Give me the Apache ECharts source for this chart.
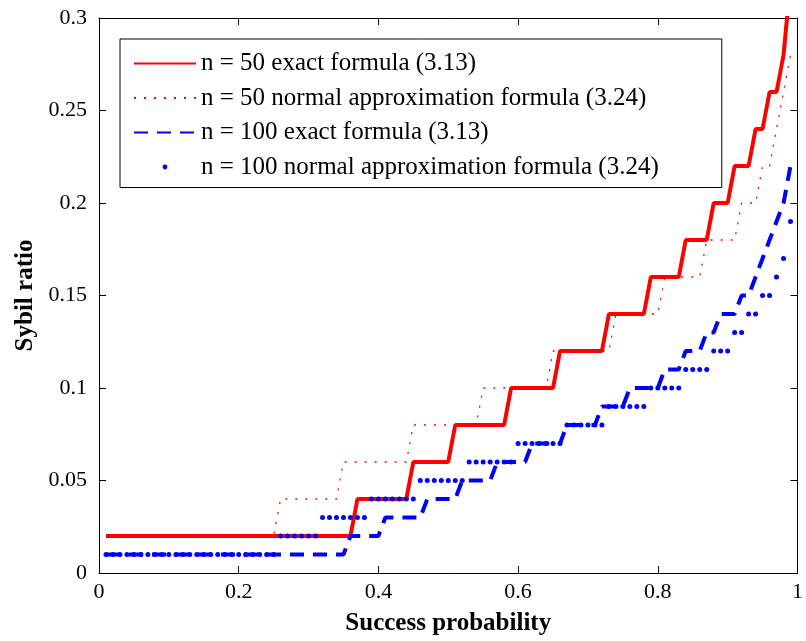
<!DOCTYPE html>
<html><head><meta charset="utf-8">
<script src="https://cdn.jsdelivr.net/npm/echarts@6/dist/echarts.min.js"></script>
<style>html,body{margin:0;padding:0;background:#fff}#c{width:806px;height:641px}</style>
</head><body><div id="c"></div>
<script>
// success probability samples
const probabilities = [
0.01,0.02,0.03,0.04,0.05,0.06,0.07,0.08,0.09,0.10,
0.11,0.12,0.13,0.14,0.15,0.16,0.17,0.18,0.19,0.20,
0.21,0.22,0.23,0.24,0.25,0.26,0.27,0.28,0.29,0.30,
0.31,0.32,0.33,0.34,0.35,0.36,0.37,0.38,0.39,0.40,
0.41,0.42,0.43,0.44,0.45,0.46,0.47,0.48,0.49,0.50,
0.51,0.52,0.53,0.54,0.55,0.56,0.57,0.58,0.59,0.60,
0.61,0.62,0.63,0.64,0.65,0.66,0.67,0.68,0.69,0.70,
0.71,0.72,0.73,0.74,0.75,0.76,0.77,0.78,0.79,0.80,
0.81,0.82,0.83,0.84,0.85,0.86,0.87,0.88,0.89,0.90,
0.91,0.92,0.93,0.94,0.95,0.96,0.97,0.98,0.99];

// n = 50 exact formula (3.13)
const n50Exact = [
0.02,0.02,0.02,0.02,0.02,0.02,0.02,0.02,0.02,0.02,
0.02,0.02,0.02,0.02,0.02,0.02,0.02,0.02,0.02,0.02,
0.02,0.02,0.02,0.02,0.02,0.02,0.02,0.02,0.02,0.02,
0.02,0.02,0.02,0.02,0.02,0.02,0.04,0.04,0.04,0.04,
0.04,0.04,0.04,0.04,0.06,0.06,0.06,0.06,0.06,0.06,
0.08,0.08,0.08,0.08,0.08,0.08,0.08,0.08,0.10,0.10,
0.10,0.10,0.10,0.10,0.10,0.12,0.12,0.12,0.12,0.12,
0.12,0.12,0.14,0.14,0.14,0.14,0.14,0.14,0.16,0.16,
0.16,0.16,0.16,0.18,0.18,0.18,0.18,0.20,0.20,0.20,
0.22,0.22,0.22,0.24,0.24,0.26,0.26,0.28,0.32];

// n = 50 normal approximation formula (3.24)
const n50Normal = [
0.02,0.02,0.02,0.02,0.02,0.02,0.02,0.02,0.02,0.02,
0.02,0.02,0.02,0.02,0.02,0.02,0.02,0.02,0.02,0.02,
0.02,0.02,0.02,0.02,0.02,0.04,0.04,0.04,0.04,0.04,
0.04,0.04,0.04,0.04,0.06,0.06,0.06,0.06,0.06,0.06,
0.06,0.06,0.06,0.06,0.08,0.08,0.08,0.08,0.08,0.08,
0.08,0.08,0.08,0.08,0.10,0.10,0.10,0.10,0.10,0.10,
0.10,0.10,0.10,0.10,0.12,0.12,0.12,0.12,0.12,0.12,
0.12,0.12,0.12,0.14,0.14,0.14,0.14,0.14,0.14,0.14,
0.16,0.16,0.16,0.16,0.16,0.16,0.18,0.18,0.18,0.18,
0.18,0.20,0.20,0.20,0.22,0.22,0.24,0.26,0.28];

// n = 100 exact formula (3.13)
const n100Exact = [
0.01,0.01,0.01,0.01,0.01,0.01,0.01,0.01,0.01,0.01,
0.01,0.01,0.01,0.01,0.01,0.01,0.01,0.01,0.01,0.01,
0.01,0.01,0.01,0.01,0.01,0.01,0.01,0.01,0.01,0.01,
0.01,0.01,0.01,0.01,0.01,0.02,0.02,0.02,0.02,0.02,
0.03,0.03,0.03,0.03,0.03,0.03,0.04,0.04,0.04,0.04,
0.04,0.05,0.05,0.05,0.05,0.05,0.06,0.06,0.06,0.06,
0.06,0.07,0.07,0.07,0.07,0.07,0.08,0.08,0.08,0.08,
0.08,0.09,0.09,0.09,0.09,0.10,0.10,0.10,0.10,0.10,
0.11,0.11,0.11,0.12,0.12,0.12,0.13,0.13,0.14,0.14,
0.14,0.15,0.15,0.16,0.17,0.18,0.19,0.20,0.22];

// n = 100 normal approximation formula (3.24)
const n100Normal = [
0.01,0.01,0.01,0.01,0.01,0.01,0.01,0.01,0.01,0.01,
0.01,0.01,0.01,0.01,0.01,0.01,0.01,0.01,0.01,0.01,
0.01,0.01,0.01,0.01,0.01,0.02,0.02,0.02,0.02,0.02,
0.02,0.03,0.03,0.03,0.03,0.03,0.03,0.03,0.04,0.04,
0.04,0.04,0.04,0.04,0.04,0.05,0.05,0.05,0.05,0.05,
0.05,0.05,0.06,0.06,0.06,0.06,0.06,0.06,0.06,0.07,
0.07,0.07,0.07,0.07,0.07,0.07,0.08,0.08,0.08,0.08,
0.08,0.08,0.09,0.09,0.09,0.09,0.09,0.09,0.10,0.10,
0.10,0.10,0.10,0.11,0.11,0.11,0.11,0.12,0.12,0.12,
0.13,0.13,0.14,0.14,0.15,0.15,0.16,0.17,0.19];

const seriesNames = [
  'n = 50 exact formula (3.13)',
  'n = 50 normal approximation formula (3.24)',
  'n = 100 exact formula (3.13)',
  'n = 100 normal approximation formula (3.24)'
];
const xTicks = {min: 0, max: 1, interval: 0.2};
const yTicks = {min: 0, max: 0.3, interval: 0.05};

const pair = arr => probabilities.map((p, i) => [p, arr[i]]);
const font = 'Liberation Serif';

const chart = echarts.init(document.getElementById('c'), null, {renderer: 'canvas'});
const axisCommon = {
  axisLine: {show: true, onZero: false, lineStyle: {color: '#000', width: 1}},
  axisTick: {show: true, inside: true, length: 7, lineStyle: {color: '#000', width: 1}},
  splitLine: {show: false}
};
chart.setOption({
  animation: false,
  backgroundColor: '#fff',
  grid: {left: 99, right: 3, top: 18, bottom: 68, containLabel: false},
  xAxis: [
    Object.assign({type: 'value', position: 'bottom', min: xTicks.min, max: xTicks.max, interval: xTicks.interval,
      name: 'Success probability', nameLocation: 'middle', nameGap: 38,
      nameTextStyle: {fontFamily: font, fontWeight: 'bold', fontSize: 25, color: '#000'},
      axisLabel: {fontFamily: font, fontSize: 22, color: '#000', margin: 8}}, axisCommon),
    Object.assign({type: 'value', position: 'top', min: xTicks.min, max: xTicks.max, interval: xTicks.interval,
      axisLabel: {show: false}}, axisCommon)
  ],
  yAxis: [
    Object.assign({type: 'value', position: 'left', min: yTicks.min, max: yTicks.max, interval: yTicks.interval,
      name: 'Sybil ratio', nameLocation: 'middle', nameGap: 60,
      nameTextStyle: {fontFamily: font, fontWeight: 'bold', fontSize: 25, color: '#000'},
      axisLabel: {fontFamily: font, fontSize: 22, color: '#000', margin: 12}}, axisCommon),
    Object.assign({type: 'value', position: 'right', min: yTicks.min, max: yTicks.max, interval: yTicks.interval,
      axisLabel: {show: false}}, axisCommon)
  ],
  legend: {
    orient: 'vertical', left: 120, top: 39,
    padding: [12, 63, 8, 13], itemGap: 9.5, itemWidth: 62, itemHeight: 6,
    borderColor: '#000', borderWidth: 1, backgroundColor: '#fff', borderRadius: 0,
    textStyle: {fontFamily: font, fontSize: 25, color: '#000', lineHeight: 25},
    data: [
      {name: seriesNames[0], itemStyle: {opacity: 0}},
      {name: seriesNames[1], itemStyle: {opacity: 0}},
      {name: seriesNames[2], itemStyle: {opacity: 0}},
      {name: seriesNames[3]}
    ]
  },
  series: [
    {name: seriesNames[0], type: 'line', data: pair(n50Exact), symbol: 'none', clip: true,
      lineStyle: {color: '#ff0000', width: 4}, itemStyle: {color: '#ff0000'}},
    {name: seriesNames[1], type: 'line', data: pair(n50Normal), symbol: 'none', clip: true,
      lineStyle: {color: '#ff0000', width: 1.3, type: [2, 8]}, itemStyle: {color: '#ff0000'}},
    {name: seriesNames[2], type: 'line', data: pair(n100Exact), symbol: 'none', clip: true,
      lineStyle: {color: '#0000ff', width: 4, type: [14, 9]}, itemStyle: {color: '#0000ff'}},
    {name: seriesNames[3], type: 'line', data: pair(n100Normal), symbol: 'circle', symbolSize: 5,
      showSymbol: true, showAllSymbol: true, clip: true,
      lineStyle: {width: 0, opacity: 0}, itemStyle: {color: '#0000ff'}}
  ]
});
</script></body></html>
